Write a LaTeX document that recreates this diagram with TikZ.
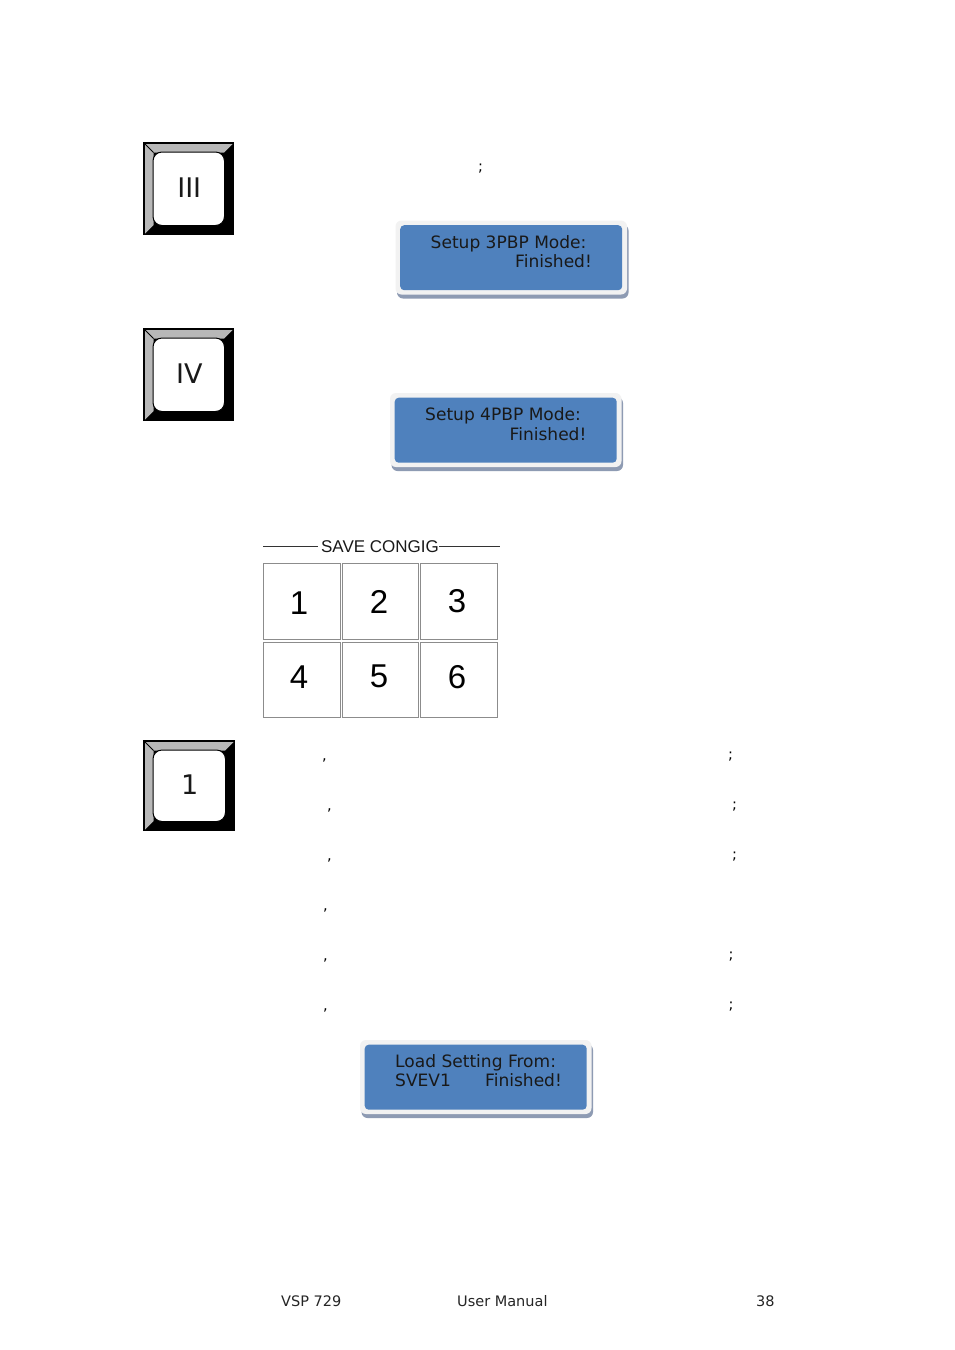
\documentclass[tikz,border=0pt]{standalone}
\usepackage{fontspec}
\setmainfont{DejaVu Sans}
\newfontfamily\arialf{Liberation Sans}
\definecolor{lcdblue}{HTML}{4F81BD}
\definecolor{lcdshadow}{HTML}{8E9BB3}
\definecolor{lcdrim}{HTML}{F2F2F2}
\definecolor{capgray}{HTML}{B8B8B8}
\definecolor{cellgray}{HTML}{8C8C8C}
\tikzset{
  lcdtext/.style={anchor=base west,inner sep=0pt,font=\fontsize{17.05}{20}\selectfont,text=black!90},
  foot/.style={anchor=base west,inner sep=0pt,font=\fontsize{14.5}{17}\selectfont,text=black!85},
  punct/.style={anchor=base,inner sep=0pt,font=\fontsize{14.6}{17}\selectfont},
  cell/.style={draw=cellgray,line width=1pt,fill=white},
  cellnum/.style={inner sep=0pt,font=\arialf\fontsize{33}{36}\selectfont},
  captext/.style={inner sep=0pt,font=\fontsize{27}{32}\selectfont,text=black!90}
}
% x y w h label name
\newcommand{\keycapdraw}[6]{%
  \begin{scope}[shift={(#1,#2)}]
    \fill[black] (0,0) rectangle (#3,#4);
    \fill[capgray] (0,0) -- (#3,0) -- ({#3-10},10) -- (10,10) -- (10,{#4-10}) -- (0,#4) -- cycle;
    \draw[black,line width=0.8pt] (0,0) -- (10,10);
    \draw[black,line width=1.1pt] (0.5,0.5) rectangle ({#3-0.5},{#4-0.5});
    \node[draw=black,line width=1pt,fill=white,rounded corners=9pt,minimum width={(#3-19)*1pt},minimum height={(#4-19)*1pt},inner sep=0pt] (#6) at ({#3/2},{#4/2}) {};
    \node[captext] (#6t) at ({#3/2+0.5},{#4/2-1}) {#5};
  \end{scope}}
% x0 y0 name content
\newcommand{\lcddraw}[4]{%
  \begin{scope}[shift={(#1,#2)}]
    \fill[lcdshadow,rounded corners=6pt] (1.5,4) rectangle (233,78);
    \fill[lcdrim,rounded corners=6pt] (0,0) rectangle (231.5,74);
    \node[fill=lcdblue,rounded corners=4pt,minimum width=222pt,minimum height=65pt,inner sep=0pt,anchor=north west] (#3) at (4.5,4.5) {};
    #4
  \end{scope}}
\begin{document}
\begin{tikzpicture}[x=1pt,y=-1pt]
\useasboundingbox (0,0) rectangle (954,1350);
\fill[white] (0,0) rectangle (954,1350);

\keycapdraw{143.5}{142.5}{90.5}{92.5}{III}{keyA}
\keycapdraw{143.5}{328.5}{90.5}{92.5}{IV}{keyB}
\keycapdraw{143.5}{740.5}{91.5}{90.5}{1}{keyC}

\lcddraw{395.5}{220.5}{lcdA}{%
  \node[lcdtext] (lcdAa) at (35,27.5) {Setup 3PBP Mode:};
  \node[lcdtext] (lcdAb) at (119.5,47) {Finished!};}
\lcddraw{390}{393}{lcdB}{%
  \node[lcdtext] (lcdBa) at (35,27.5) {Setup 4PBP Mode:};
  \node[lcdtext] (lcdBb) at (119.5,47) {Finished!};}
\lcddraw{360}{1040}{lcdC}{%
  \node[lcdtext] (lcdCa) at (35,27) {Load Setting From:};
  \node[lcdtext] (lcdCb) at (35,46) {SVEV1};
  \node[lcdtext] (lcdCc) at (125,46) {Finished!};}

% save config panel
\node[anchor=base,inner sep=0pt,font=\arialf\fontsize{17}{20}\selectfont,text=black!90] (title) at (380,552) {SAVE CONGIG};
\coordinate (ruleL) at (263,546);
\coordinate (ruleR) at (499.5,546);
\draw[black!80,line width=0.8pt] (ruleL) -- ([xshift=-3pt]title.west |- ruleL);
\draw[black!80,line width=0.8pt] (title.east |- ruleR) -- (ruleR);
\node[cell,minimum width=77pt,minimum height=76pt,inner sep=0pt] (c1) at (301.5,601.5) {};
\node[cell,minimum width=76pt,minimum height=76pt,inner sep=0pt] (c2) at (380,601.5) {};
\node[cell,minimum width=77pt,minimum height=76pt,inner sep=0pt] (c3) at (458.5,601.5) {};
\node[cell,minimum width=77pt,minimum height=75.5pt,inner sep=0pt] (c4) at (301.5,680) {};
\node[cell,minimum width=76pt,minimum height=75.5pt,inner sep=0pt] (c5) at (380,680) {};
\node[cell,minimum width=77pt,minimum height=75.5pt,inner sep=0pt] (c6) at (458.5,680) {};
\node[cellnum] (n1) at (299,603) {1};
\node[cellnum] (n2) at (379,601.5) {2};
\node[cellnum] (n3) at (457,601.5) {3};
\node[cellnum] (n4) at (299,677) {4};
\node[cellnum] (n5) at (379,676) {5};
\node[cellnum] (n6) at (457,677) {6};

% punctuation left on the page
\node[punct] (p0) at (480.5,171) {;};
\node[punct] (p1) at (324.5,760) {,};
\node[punct] (p2) at (730.5,759) {;};
\node[punct] (p3) at (329.5,810) {,};
\node[punct] (p4) at (734.5,809) {;};
\node[punct] (p5) at (329.5,860) {,};
\node[punct] (p6) at (734.5,859) {;};
\node[punct] (p7) at (325.5,910) {,};
\node[punct] (p8) at (325.5,960) {,};
\node[punct] (p9) at (731,959) {;};
\node[punct] (p10) at (325.5,1010) {,};
\node[punct] (p11) at (731,1009) {;};

% footer
\node[foot] (f1) at (281,1306) {VSP 729};
\node[foot] (f2) at (457,1306) {User Manual};
\node[foot] (f3) at (756,1306) {38};
\end{tikzpicture}
\end{document}
